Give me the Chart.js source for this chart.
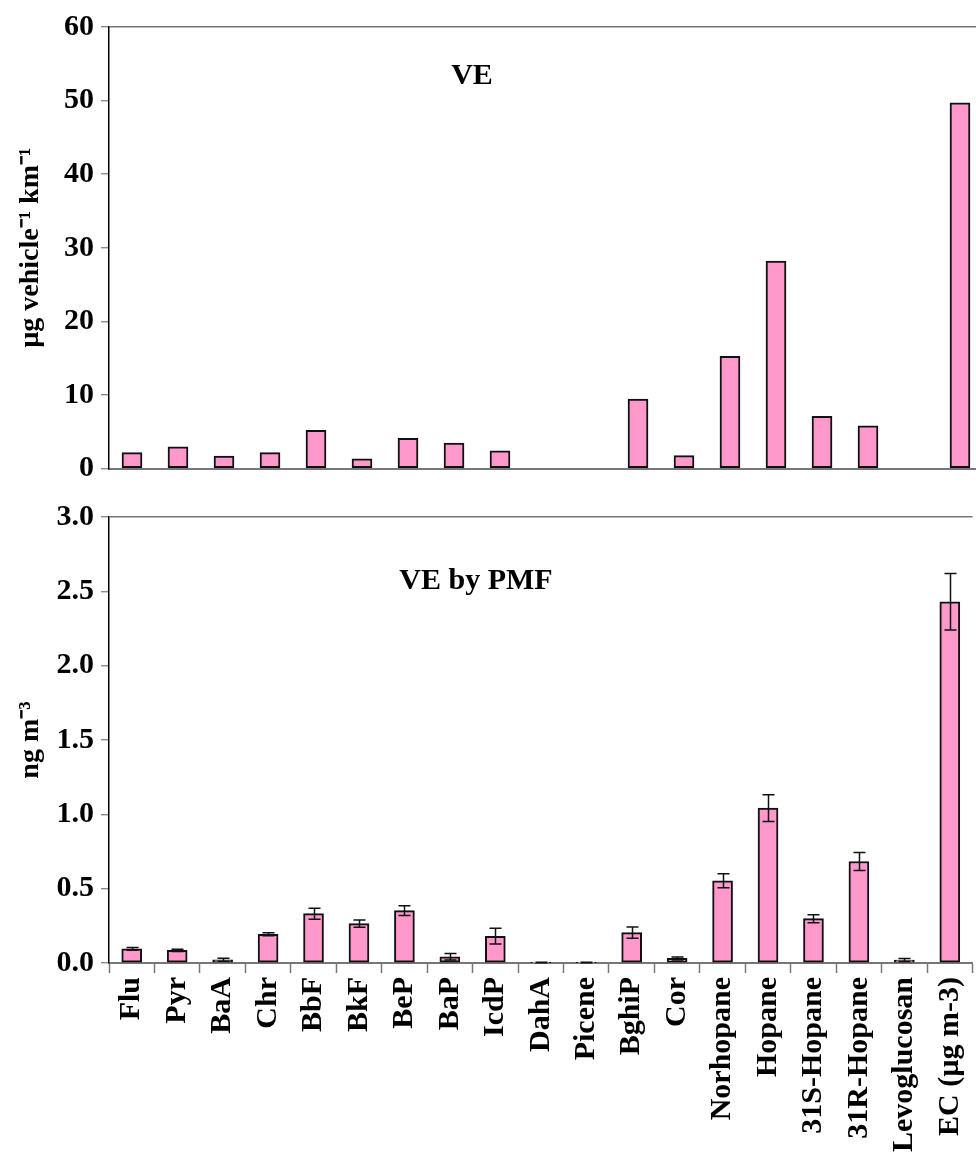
<!DOCTYPE html>
<html>
<head>
<meta charset="utf-8">
<script src="https://cdn.jsdelivr.net/npm/chart.js@4.4.1/dist/chart.umd.min.js"></script>
<style>
  html, body { margin: 0; padding: 0; background: #fff; overflow: hidden; width: 976px; height: 1155px; }
  .wrap { position: absolute; left: 0; }
  canvas { display: block; }
  .note { position: absolute; font-family: 'Liberation Serif', 'Times New Roman', serif; font-weight: bold; font-size: 30px; line-height: 30px; color: #000; white-space: nowrap; transform: translateX(-50%); }
</style>
</head>
<body>
<div class="wrap" style="top:0"><canvas id="top" width="990" height="500"></canvas></div>
<div class="wrap" style="top:490px"><canvas id="bottom" width="990" height="665"></canvas></div>
<div class="note" style="left:472px; top:59px;">VE</div>
<div class="note" style="left:476px; top:564px;">VE by PMF</div>
<script>
// ---- data ----
const categories = ['Flu','Pyr','BaA','Chr','BbF','BkF','BeP','BaP','IcdP','DahA','Picene','BghiP','Cor','Norhopane','Hopane','31S-Hopane','31R-Hopane','Levoglucosan','EC (µg m-3)'];
const veEmission = [2.15, 2.95, 1.7, 2.15, 5.2, 1.3, 4.1, 3.45, 2.4, null, null, 9.45, 1.75, 15.25, 28.2, 7.1, 5.8, null, 49.7];
const pmfValues = [0.095, 0.085, 0.022, 0.193, 0.332, 0.265, 0.352, 0.042, 0.18, 0.003, 0.003, 0.204, 0.031, 0.553, 1.042, 0.298, 0.683, 0.02, 2.43];
const pmfErrors = [0.01, 0.008, 0.01, 0.01, 0.037, 0.025, 0.033, 0.022, 0.053, 0.002, 0.002, 0.038, 0.01, 0.047, 0.09, 0.027, 0.06, 0.01, 0.19];
const topTitle = 'µg vehicle⁻¹ km⁻¹';
const bottomTitle = 'ng m⁻³';

const FONT = "'Liberation Serif', 'Times New Roman', serif";
const PINK = '#ff99cc';
const GRAY = '#777777';

const errorBarPlugin = {
  id: 'errorBars',
  afterDatasetsDraw(chart, args, opts) {
    if (!opts || !opts.errors) return;
    const ctx = chart.ctx;
    const meta = chart.getDatasetMeta(0);
    const ys = chart.scales.y;
    const vals = chart.data.datasets[0].data;
    ctx.save();
    ctx.strokeStyle = '#111';
    ctx.lineWidth = 1.5;
    meta.data.forEach((bar, i) => {
      const v = vals[i], e = opts.errors[i];
      if (v == null || e == null) return;
      const x = Math.round(bar.x) + 0.5;
      const y1 = ys.getPixelForValue(v + e);
      const y2 = ys.getPixelForValue(Math.max(v - e, 0));
      const hw = 6;
      ctx.beginPath();
      ctx.moveTo(x, y1); ctx.lineTo(x, y2);
      ctx.moveTo(x - hw, y1); ctx.lineTo(x + hw, y1);
      ctx.moveTo(x - hw, y2); ctx.lineTo(x + hw, y2);
      ctx.stroke();
    });
    ctx.restore();
  }
};

function yScale(max, step, title, fmt) {
  return {
    min: 0, max: max,
    afterFit(s) { s.width = 109; },
    ticks: { stepSize: step, color: '#000', padding: 7, font: { family: FONT, size: 30, weight: 'bold' }, callback: fmt },
    grid: {
      drawOnChartArea: true, drawTicks: true, tickLength: 8, tickColor: GRAY, tickWidth: 1.2,
      color: (c) => (c.tick && c.tick.value === max) ? GRAY : 'rgba(0,0,0,0)', lineWidth: 1.5
    },
    border: { display: true, color: '#000', width: 1.5 },
    title: { display: true, text: title, color: '#000', padding: { top: 14, bottom: 0 }, font: { family: FONT, size: 28, weight: 'bold' } }
  };
}

const commonPlugins = { legend: { display: false }, tooltip: { enabled: false } };

new Chart(document.getElementById('top'), {
  type: 'bar',
  data: { labels: categories, datasets: [{ data: veEmission, backgroundColor: PINK, borderColor: '#111', borderWidth: 2, borderSkipped: false, barThickness: 20 }] },
  options: {
    responsive: false, animation: false, devicePixelRatio: 1,
    layout: { padding: { left: 0, right: 7, top: 27, bottom: 31.5 } },
    plugins: commonPlugins,
    scales: {
      x: {
        afterFit(s) { s.height = 0; },
        ticks: { display: false },
        grid: { display: false },
        border: { display: true, color: GRAY, width: 2 }
      },
      y: yScale(60, 10, topTitle, (v) => v)
    }
  }
});

new Chart(document.getElementById('bottom'), {
  type: 'bar',
  data: { labels: categories, datasets: [{ data: pmfValues, backgroundColor: PINK, borderColor: '#111', borderWidth: 2, borderSkipped: false, barThickness: 20 }] },
  plugins: [errorBarPlugin],
  options: {
    responsive: false, animation: false, devicePixelRatio: 1,
    layout: { padding: { left: 0, right: 7, top: 27, bottom: 0 } },
    plugins: Object.assign({ errorBars: { errors: pmfErrors } }, commonPlugins),
    scales: {
      x: {
        afterFit(s) { s.height = 192; },
        ticks: { color: '#000', autoSkip: false, minRotation: 90, maxRotation: 90, padding: 4, font: { family: FONT, size: 30, weight: 'bold' } },
        grid: { display: true, offset: true, drawOnChartArea: false, drawTicks: true, tickLength: 10, tickColor: GRAY, tickWidth: 1.5 },
        border: { display: true, color: GRAY, width: 2 }
      },
      y: yScale(3, 0.5, bottomTitle, (v) => Number(v).toFixed(1))
    }
  }
});
</script>
</body>
</html>
